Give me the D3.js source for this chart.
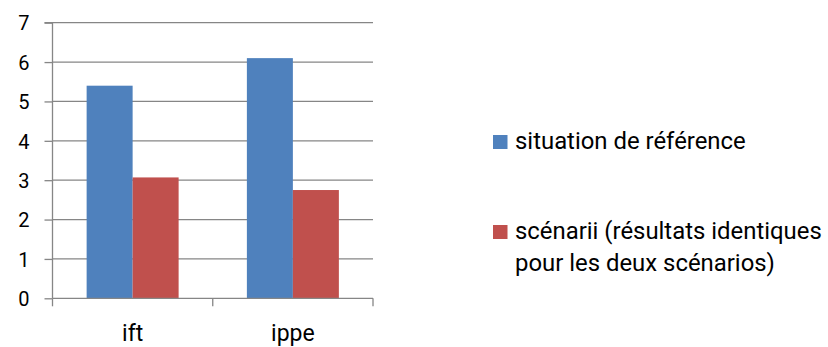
<!DOCTYPE html>
<html>
<head>
<meta charset="utf-8">
<script src="https://cdn.jsdelivr.net/npm/d3@7"></script>
<style>
  html, body { margin: 0; padding: 0; background: #fff; }
  svg { display: block; }
  text { font-family: Roboto, "Open Sans", sans-serif; fill: #000; font-variant-ligatures: none; }
</style>
</head>
<body>
<svg id="chart" width="828" height="347"></svg>
<script>
// Categories, series and values
const categories = ["ift", "ippe"];
const seriesNames = ["situation de référence", "scénarii (résultats identiques pour les deux scénarios)"];
const legendLines = [["situation de référence"], ["scénarii (résultats identiques", "pour les deux scénarios)"]];
const reference = [5.4, 6.1];
const scenarios = [3.07, 2.75];
const yTicks = [0, 1, 2, 3, 4, 5, 6, 7];
const colors = ["#4F81BD", "#C0504D"];

const rows = categories.map((c, i) => ({ cat: c, values: [reference[i], scenarios[i]] }));

const svg = d3.select("#chart");
const plot = { left: 52.5, right: 373, top: 22.7, bottom: 298.3 };
const fontFamily = "Roboto, 'Open Sans', sans-serif";

const y = d3.scaleLinear().domain([0, 7]).range([plot.bottom, plot.top]);
const x0 = d3.scaleBand().domain(categories).range([plot.left, plot.right]).padding(0);
const x1 = d3.scaleBand().domain([0, 1]).range([0, x0.bandwidth()]).paddingInner(0).paddingOuter(0.742);

const axisColor = "#868686";

// Horizontal gridlines
svg.append("g").selectAll("line").data(yTicks.filter(t => t > 0)).join("line")
  .attr("x1", plot.left).attr("x2", plot.right)
  .attr("y1", d => y(d)).attr("y2", d => y(d))
  .attr("stroke", axisColor).attr("stroke-width", 1.3);

// Bars
const groups = svg.append("g").selectAll("g").data(rows).join("g")
  .attr("transform", d => `translate(${x0(d.cat)},0)`);
groups.selectAll("rect").data(d => d.values.map((v, i) => ({ v, i }))).join("rect")
  .attr("x", d => x1(d.i))
  .attr("width", x1.bandwidth())
  .attr("y", d => y(d.v))
  .attr("height", d => y(0) - y(d.v))
  .attr("fill", d => colors[d.i]);

// Y axis
const yAxis = d3.axisLeft(y).tickValues(yTicks).tickSize(8).tickPadding(15).tickFormat(d3.format("d"));
const gy = svg.append("g").attr("transform", `translate(${plot.left},0)`).call(yAxis);
gy.select(".domain").attr("stroke", axisColor).attr("stroke-width", 1.3).attr("d", `M-8,${plot.top}H0V${plot.bottom}`);
gy.selectAll(".tick line").attr("stroke", axisColor).attr("stroke-width", 1.3);
gy.selectAll(".tick text").attr("font-size", 20).attr("font-family", fontFamily).attr("fill", "#000")
  .attr("dy", "0.36em");

// X axis: ticks at category boundaries
const gx = svg.append("g").attr("transform", `translate(0,${plot.bottom})`);
gx.append("line").attr("x1", plot.left).attr("x2", plot.right).attr("y1", 0).attr("y2", 0)
  .attr("stroke", axisColor).attr("stroke-width", 1.3);
const bounds = categories.map(c => x0(c)).concat([plot.right]);
gx.selectAll("line.bt").data(bounds).join("line").attr("class", "bt")
  .attr("x1", d => d).attr("x2", d => d).attr("y1", 0).attr("y2", 8)
  .attr("stroke", axisColor).attr("stroke-width", 1.3);
gx.selectAll("text").data(categories).join("text")
  .attr("x", d => x0(d) + x0.bandwidth() / 2)
  .attr("y", 42.5)
  .attr("text-anchor", "middle")
  .attr("font-size", 23)
  .text(d => d);

// Legend
const legendY = [149, 239];
const legend = svg.append("g");
legendLines.forEach((lines, i) => {
  legend.append("rect").attr("x", 493).attr("y", legendY[i] - 14).attr("width", 14.5).attr("height", 14)
    .attr("fill", colors[i]);
  lines.forEach((ln, j) => {
    legend.append("text").attr("x", 515).attr("y", legendY[i] + j * 32)
      .attr("font-size", 23.9).text(ln);
  });
});
</script>
</body>
</html>
